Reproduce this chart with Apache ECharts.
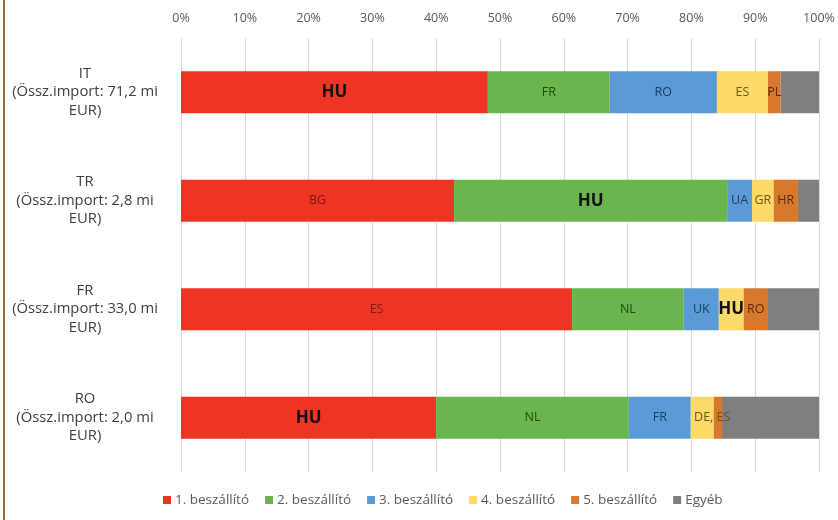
<!DOCTYPE html>
<html>
<head>
<meta charset="utf-8">
<script src="https://cdn.jsdelivr.net/npm/echarts@6/dist/echarts.min.js"></script>
<style>html,body{margin:0;padding:0;background:#fff;}#c{width:838px;height:520px;}</style>
</head>
<body>
<div id="c"></div>
<script>
const categories = [
  'IT\n(Össz.import: 71,2 mi\nEUR)',
  'TR\n(Össz.import: 2,8 mi\nEUR)',
  'FR\n(Össz.import: 33,0 mi\nEUR)',
  'RO\n(Össz.import: 2,0 mi\nEUR)'
];
const seriesNames = ['1. beszállító', '2. beszállító', '3. beszállító', '4. beszállító', '5. beszállító', 'Egyéb'];
const supplier1 = [48.1, 42.8, 61.3, 40.0];
const supplier2 = [19.1, 42.8, 17.5, 30.2];
const supplier3 = [16.8, 3.9, 5.5, 9.7];
const supplier4 = [8.0, 3.4, 3.9, 3.6];
const supplier5 = [2.0, 3.8, 3.8, 1.3];
const other = [6.0, 3.3, 8.0, 15.2];
const labels1 = ['HU', 'BG', 'ES', 'HU'];
const labels2 = ['FR', 'HU', 'NL', 'NL'];
const labels3 = ['RO', 'UA', 'UK', 'FR'];
const labels4 = ['ES', 'GR', 'HU', 'DE, ES'];
const labels5 = ['PL', 'HR', 'RO', ''];
const labelsOther = ['', '', '', ''];
const xTicks = ['0%', '10%', '20%', '30%', '40%', '50%', '60%', '70%', '80%', '90%', '100%'];

const colors = ['#EE3524', '#6AB54E', '#5B9BD5', '#FDD968', '#D8782C', '#7F7F7F'];
const labelColors = ['#7a1c12', '#1f4a14', '#1d3c66', '#6b5812', '#5a2a0a', '#333'];
const values = [supplier1, supplier2, supplier3, supplier4, supplier5, other];
const labelSets = [labels1, labels2, labels3, labels4, labels5, labelsOther];

const font = 'Open Sans';

const series = values.map((vals, si) => ({
  name: seriesNames[si],
  type: 'bar',
  stack: 'total',
  barWidth: 42,
  itemStyle: { color: colors[si] },
  emphasis: { disabled: true },
  data: vals.map((v, ci) => {
    const txt = labelSets[si][ci];
    const isHU = txt === 'HU';
    const lab = {
      show: txt !== '',
      formatter: txt,
      position: 'inside',
      fontFamily: font,
      fontSize: isHU ? 17 : 12.5,
      fontWeight: isHU ? 'bold' : 'normal',
      color: isHU ? '#111' : labelColors[si]
    };
    if (txt === 'DE, ES') lab.offset = [10, 0];
    return { value: v, label: lab };
  })
}));

const chart = echarts.init(document.getElementById('c'), null, { renderer: 'canvas' });
chart.setOption({
  animation: false,
  backgroundColor: '#fff',
  graphic: [{
    type: 'rect',
    shape: { x: 3, y: 0, width: 2, height: 520 },
    style: { fill: '#9a6a3a' }
  }],
  grid: { left: 181, right: 19, top: 38, height: 434, containLabel: false },
  legend: {
    top: 488,
    left: 158,
    itemWidth: 8,
    itemHeight: 8,
    itemGap: 16,
    icon: 'rect',
    textStyle: { fontFamily: font, fontSize: 13.5, color: '#595959', padding: [0, 0, 0, -1] },
    data: seriesNames
  },
  xAxis: {
    type: 'value',
    position: 'top',
    min: 0,
    max: 100,
    interval: 10,
    axisLine: { show: false },
    axisTick: { show: false },
    axisLabel: {
      fontFamily: font, fontSize: 12.5, color: '#595959', margin: 13,
      formatter: (v) => xTicks[Math.round(v / 10)]
    },
    splitLine: { lineStyle: { color: '#d9d9d9', width: 1 } }
  },
  yAxis: {
    type: 'category',
    inverse: true,
    data: categories,
    axisLine: { show: false },
    axisTick: { show: false },
    axisLabel: {
      fontFamily: font, fontSize: 14.8, color: '#404040',
      align: 'center', margin: 96, lineHeight: 18.5
    }
  },
  series: series
});
</script>
</body>
</html>
